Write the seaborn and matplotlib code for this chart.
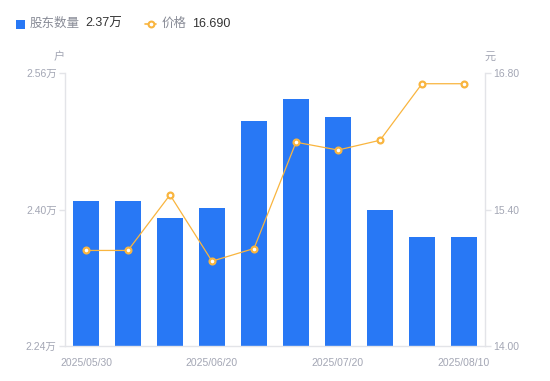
import matplotlib
matplotlib.use("Agg")
import matplotlib.pyplot as plt
import seaborn as sns
import pandas as pd
from matplotlib.lines import Line2D
from matplotlib.patches import Rectangle

# ---- data ----
dates = ["2025/05/30", "2025/06/06", "2025/06/13", "2025/06/20", "2025/06/30",
         "2025/07/10", "2025/07/20", "2025/07/31", "2025/08/08", "2025/08/10"]
holders = [2.410, 2.410, 2.390, 2.402, 2.504, 2.530, 2.509, 2.400, 2.368, 2.368]  # 万户
price = [14.98, 14.98, 15.55, 14.87, 15.00, 16.09, 16.01, 16.11, 16.69, 16.69]
shown_dates = ["2025/05/30", "2025/06/20", "2025/07/20", "2025/08/10"]
left_ticks = [2.24, 2.40, 2.56]
right_ticks = [14.00, 15.40, 16.80]

BLUE = "#2878f5"
ORANGE = "#f9b53f"
GRAY = "#a3a6b4"
AXIS = "#e3e4e8"
DARK = "#333333"

sns.set_theme(style="white")
plt.rcParams["font.family"] = ["Liberation Sans", "Noto Sans CJK SC", "DejaVu Sans"]
plt.rcParams["axes.unicode_minus"] = False

df = pd.DataFrame({"date": dates, "holders": holders, "price": price})

fig = plt.figure(figsize=(5.5, 3.81), dpi=100)
ax = fig.add_axes([65 / 550, 1 - 346 / 381, 420 / 550, (346 - 73) / 381])

sns.barplot(data=df, x="date", y="holders", color=BLUE, width=0.6,
            saturation=1, ax=ax, linewidth=0)
ax.set_ylim(left_ticks[0], left_ticks[-1])
ax.set_yticks(left_ticks)
ax.set_yticklabels([f"{v:.2f}万" for v in left_ticks])
ax.set_xlabel("")
ax.set_ylabel("")
ax.set_xticks([dates.index(d) for d in shown_dates])
ax.set_xticklabels(shown_dates)

ax2 = ax.twinx()
sns.pointplot(data=df, x="date", y="price", color=ORANGE, ax=ax2,
              markers="o", linestyles="-",
              markersize=4.2, markerfacecolor="white", markeredgewidth=1.6,
              markeredgecolor=ORANGE, linewidth=0.9)
ax2.set_ylim(right_ticks[0], right_ticks[-1])
ax2.set_yticks(right_ticks)
ax2.set_yticklabels([f"{v:.2f}" for v in right_ticks])
ax2.set_ylabel("")
ax2.set_xlabel("")
ax.set_xlim(-0.5, len(dates) - 0.5)
ax2.set_xlim(-0.5, len(dates) - 0.5)

for a in (ax, ax2):
    for s in a.spines.values():
        s.set_visible(False)
    a.grid(False)

ax.spines["left"].set_visible(True)
ax.spines["left"].set_color(AXIS)
ax.spines["bottom"].set_visible(True)
ax.spines["bottom"].set_color(AXIS)
ax2.spines["right"].set_visible(True)
ax2.spines["right"].set_color(AXIS)
for s in (ax.spines["left"], ax.spines["bottom"], ax2.spines["right"]):
    s.set_linewidth(1)

ax.tick_params(axis="y", which="both", left=True, length=4, width=1, color=AXIS,
               labelsize=7.5, labelcolor=GRAY, pad=2)
ax.tick_params(axis="x", bottom=False, labelsize=7.5, labelcolor=GRAY, pad=3)
ax2.tick_params(axis="y", right=True, length=4, width=1, color=AXIS,
                labelsize=7.5, labelcolor=GRAY, pad=2)

# axis unit labels
fig.text(59 / 550, 1 - 57 / 381, "户", fontsize=8, color=GRAY, ha="center", va="center")
fig.text(490 / 550, 1 - 57 / 381, "元", fontsize=8, color=GRAY, ha="center", va="center")

# legend (top)
ly = 1 - 24 / 381
fig.add_artist(Rectangle((16 / 550, 1 - 29 / 381), 9 / 550, 9 / 381,
                         transform=fig.transFigure, color=BLUE, lw=0))
fig.text(30 / 550, ly, "股东数量", fontsize=9, color="#888b96", ha="left", va="center")
fig.text(85 / 550, ly, f"{holders[-1]:.2f}万", fontsize=9, color=DARK, ha="left", va="center")
fig.add_artist(Line2D([145 / 550, 156 / 550], [ly, ly], transform=fig.transFigure,
                      color=ORANGE, lw=1.2))
fig.add_artist(Line2D([150.5 / 550], [ly], transform=fig.transFigure, marker="o",
                      markersize=4.2, markerfacecolor="white", markeredgecolor=ORANGE,
                      markeredgewidth=1.5))
fig.text(162 / 550, ly, "价格", fontsize=9, color="#888b96", ha="left", va="center")
fig.text(192 / 550, ly, f"{price[-1]:.3f}", fontsize=9, color=DARK, ha="left", va="center")

fig.savefig("out.png", dpi=100)
